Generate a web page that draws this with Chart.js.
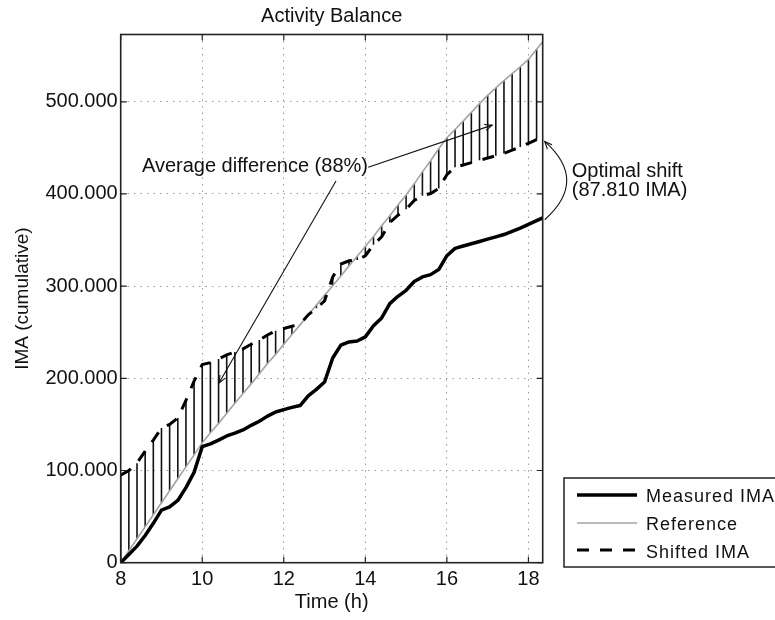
<!DOCTYPE html>
<html>
<head>
<meta charset="utf-8">
<script src="https://cdn.jsdelivr.net/npm/chart.js@4/dist/chart.umd.min.js"></script>
<style>
html,body{margin:0;padding:0;background:#fff;}
#wrap{width:775px;height:620px;position:relative;}
</style>
</head>
<body>
<div id="wrap"><canvas id="c" width="775" height="620"></canvas></div>
<script>
// ---- data (IMA values in thousands) ----
const chartTitle = 'Activity Balance';
const xAxisTitle = 'Time (h)';
const yAxisTitle = 'IMA (cumulative)';
const xTickValues = [8, 10, 12, 14, 16, 18];
const yTickValues = [0, 100, 200, 300, 400, 500];

const timesH = [8.0, 8.2, 8.4, 8.6, 8.8, 9.0, 9.2, 9.4, 9.6, 9.8,
  10.0, 10.2, 10.4, 10.6, 10.8, 11.0, 11.2, 11.4, 11.6, 11.8,
  12.0, 12.2, 12.4, 12.6, 12.8, 13.0, 13.2, 13.4, 13.6, 13.8,
  14.0, 14.2, 14.4, 14.6, 14.8, 15.0, 15.2, 15.4, 15.6, 15.8,
  16.0, 16.2, 16.4, 16.6, 16.8, 17.0, 17.2, 17.4, 17.6, 17.8,
  18.0, 18.2, 18.35];

const measuredIMA = [0, 9, 18, 29.5, 42.7, 57, 60.5, 67.5, 81.5, 98,
  126, 129, 133, 137.5, 140.5, 144, 149, 153.5, 159, 163.5,
  166, 168.5, 170.5, 181, 188, 196, 222, 236, 239.5, 240.5,
  245, 257, 265.5, 281, 289, 295.5, 305, 310, 312.5, 318,
  333, 341, 343.5, 346, 348.5, 351, 353.5, 356, 359.5, 363,
  367, 371, 374];

const referenceIMA = [0, 13, 26, 39, 52, 65, 78, 91, 104, 117,
  130, 141, 151, 162, 173, 183.5, 194, 205, 216, 226,
  237, 247.5, 258, 269, 279.5, 290, 300.5, 311, 322, 332.5,
  343, 354, 365.5, 376.5, 388, 399, 411, 424, 436, 449,
  461, 470, 479, 488.5, 498, 507, 515, 523, 530.5, 538,
  546, 557, 565];

const shiftedIMA = [95, 100, 108, 121, 133, 146, 150, 157, 176, 197,
  215, 217, 221, 225.5, 228.5, 232, 237, 241.5, 247, 251.5,
  254, 256.5, 258.5, 269, 276, 284, 310, 324, 327.5, 328.5,
  333, 345, 353.5, 369, 377, 383.5, 393, 398, 400.5, 406,
  421, 429, 431.5, 434, 436.5, 439, 441.5, 444, 447.5, 451,
  455, 459, 462];

const seriesLabels = ['Measured IMA', 'Reference', 'Shifted IMA'];
const avgDiffText = 'Average difference (88%)';
const shiftText = ['Optimal shift', '(87.810 IMA)'];

// ---- chart ----
const FONT = '"Liberation Sans", Arial, Helvetica, sans-serif';
const toPts = ys => timesH.map((t, i) => ({x: t, y: ys[i]}));
const hatchPts = [];
timesH.forEach((t, i) => {
  if (i === timesH.length - 1) return;
  hatchPts.push({x: t, y: referenceIMA[i]}, {x: t, y: shiftedIMA[i]}, {x: t, y: null});
});

function arrowHead(ctx, fx, fy, tx, ty, len, ang) {
  const a = Math.atan2(ty - fy, tx - fx);
  ctx.beginPath();
  ctx.moveTo(tx - len * Math.cos(a - ang), ty - len * Math.sin(a - ang));
  ctx.lineTo(tx, ty);
  ctx.lineTo(tx - len * Math.cos(a + ang), ty - len * Math.sin(a + ang));
  ctx.stroke();
}

const decorPlugin = {
  id: 'decor',
  afterDraw(chart) {
    const {ctx, chartArea: a, scales: {x, y}} = chart;
    const ds = chart.data.datasets;
    ctx.save();
    // title centred over the axes
    ctx.fillStyle = '#111';
    ctx.font = '20px ' + FONT;
    ctx.textAlign = 'center';
    ctx.textBaseline = 'middle';
    ctx.fillText(chartTitle, (a.left + a.right) / 2, 16.5);

    // axes box
    ctx.strokeStyle = '#222';
    ctx.lineWidth = 1.6;
    ctx.strokeRect(a.left, a.top, a.right - a.left, a.bottom - a.top);
    // inward tick marks on all four sides
    ctx.lineWidth = 1.2;
    const tl = 6;
    ctx.beginPath();
    x.ticks.forEach(t => {
      const px = x.getPixelForValue(t.value);
      ctx.moveTo(px, a.bottom); ctx.lineTo(px, a.bottom - tl);
      ctx.moveTo(px, a.top); ctx.lineTo(px, a.top + tl);
    });
    y.ticks.forEach(t => {
      const py = y.getPixelForValue(t.value);
      ctx.moveTo(a.left, py); ctx.lineTo(a.left + tl, py);
      ctx.moveTo(a.right, py); ctx.lineTo(a.right - tl, py);
    });
    ctx.stroke();

    // annotations
    ctx.fillStyle = '#111';
    ctx.strokeStyle = '#111';
    ctx.font = '20px ' + FONT;
    ctx.textBaseline = 'middle';
    ctx.textAlign = 'left';
    const tx = x.getPixelForValue(8.52), ty = y.getPixelForValue(429.5);
    ctx.fillText(avgDiffText, tx, ty);
    ctx.lineWidth = 1.1;
    // arrow 1
    let fx = x.getPixelForValue(13.28), fy = y.getPixelForValue(414);
    let ex = x.getPixelForValue(10.41), ey = y.getPixelForValue(195);
    ctx.beginPath(); ctx.moveTo(fx, fy); ctx.lineTo(ex, ey); ctx.stroke();
    arrowHead(ctx, fx, fy, ex, ey, 8, 0.4);
    // arrow 2
    fx = x.getPixelForValue(14.07); fy = y.getPixelForValue(429);
    ex = x.getPixelForValue(17.11); ey = y.getPixelForValue(474.7);
    ctx.beginPath(); ctx.moveTo(fx, fy); ctx.lineTo(ex, ey); ctx.stroke();
    arrowHead(ctx, fx, fy, ex, ey, 8, 0.4);

    // optimal shift curved arrow
    const sx = x.getPixelForValue(18.4);
    const y0 = y.getPixelForValue(measuredIMA[measuredIMA.length - 1] - 2);
    const y1 = y.getPixelForValue(shiftedIMA[shiftedIMA.length - 1] - 5);
    const cx = sx + 44, cy = (y0 + y1) / 2;
    ctx.beginPath(); ctx.moveTo(sx, y0); ctx.quadraticCurveTo(cx, cy, sx, y1); ctx.stroke();
    arrowHead(ctx, sx + 10, y1 + 11, sx, y1, 8, 0.4);
    ctx.fillText(shiftText[0], sx + 27, cy - 9);
    ctx.fillText(shiftText[1], sx + 27, cy + 10);

    // legend (outside, bottom right)
    const lx = 564, ly = 478, lw = 240, lh = 89;
    ctx.fillStyle = '#fff';
    ctx.fillRect(lx, ly, lw, lh);
    ctx.strokeStyle = '#222';
    ctx.lineWidth = 1.5;
    ctx.strokeRect(lx, ly, lw, lh);
    const rows = [
      {label: seriesLabels[0], ds: ds[0], ly: 495, ty: 497},
      {label: seriesLabels[1], ds: ds[2], ly: 523, ty: 525},
      {label: seriesLabels[2], ds: ds[1], ly: 550, ty: 553}
    ];
    ctx.font = '18px ' + FONT;
    try { ctx.letterSpacing = '1px'; } catch (e) {}
    rows.forEach(r => {
      ctx.save();
      ctx.strokeStyle = r.ds.borderColor;
      ctx.lineWidth = r.ds.borderWidth;
      ctx.setLineDash(r.ds.borderDash || []);
      ctx.beginPath(); ctx.moveTo(577, r.ly); ctx.lineTo(637, r.ly); ctx.stroke();
      ctx.restore();
      ctx.fillStyle = '#111';
      ctx.fillText(r.label, 646, r.ty);
    });
    ctx.restore();
  }
};

new Chart(document.getElementById('c'), {
  type: 'line',
  data: {
    datasets: [
      {label: seriesLabels[0], data: toPts(measuredIMA), borderColor: '#000', borderWidth: 3.5,
       pointRadius: 0, tension: 0, borderJoinStyle: 'round'},
      {label: seriesLabels[2], data: toPts(shiftedIMA), borderColor: '#000', borderWidth: 3,
       borderDash: [12, 11], pointRadius: 0, tension: 0},
      {label: seriesLabels[1], data: toPts(referenceIMA), borderColor: '#a3a3a3', borderWidth: 1.6,
       pointRadius: 0, tension: 0},
      {label: 'Difference', data: hatchPts, borderColor: '#111', borderWidth: 1.6,
       pointRadius: 0, spanGaps: false, tension: 0}
    ]
  },
  options: {
    responsive: false,
    animation: false,
    devicePixelRatio: 1,
    layout: {padding: {left: 0, right: 232.3, top: 34.5, bottom: 0}},
    plugins: {
      legend: {display: false},
      tooltip: {enabled: false},
      title: {display: false}
    },
    scales: {
      x: {
        type: 'linear', min: 8, max: 18.35,
        afterFit: s => { s.height = 57.3; },
        afterBuildTicks: s => { s.ticks = xTickValues.map(v => ({value: v})); },
        ticks: {color: '#111', font: {family: FONT, size: 20}, padding: 4.3, maxRotation: 0,
          autoSkip: false, includeBounds: false, callback: v => String(v)},
        grid: {color: '#9a9a9a', lineWidth: 1, drawTicks: false},
        border: {display: false, dash: [1.5, 5]},
        title: {display: true, text: xAxisTitle, color: '#111',
          font: {family: FONT, size: 20}, padding: {top: 0, bottom: 6}}
      },
      y: {
        type: 'linear', min: 0, max: 573,
        afterFit: s => { s.width = 120.7; },
        afterBuildTicks: s => { s.ticks = yTickValues.map(v => ({value: v})); },
        ticks: {color: '#111', font: {family: FONT, size: 20}, padding: 3, autoSkip: false,
          includeBounds: false, callback: v => v === 0 ? '0' : v + '.000'},
        grid: {color: '#9a9a9a', lineWidth: 1, drawTicks: false},
        border: {display: false, dash: [1.5, 5]},
        title: {display: true, text: yAxisTitle, color: '#111',
          font: {family: FONT, size: 19}, padding: {top: 11, bottom: 0}}
      }
    }
  },
  plugins: [decorPlugin]
});
</script>
</body>
</html>
